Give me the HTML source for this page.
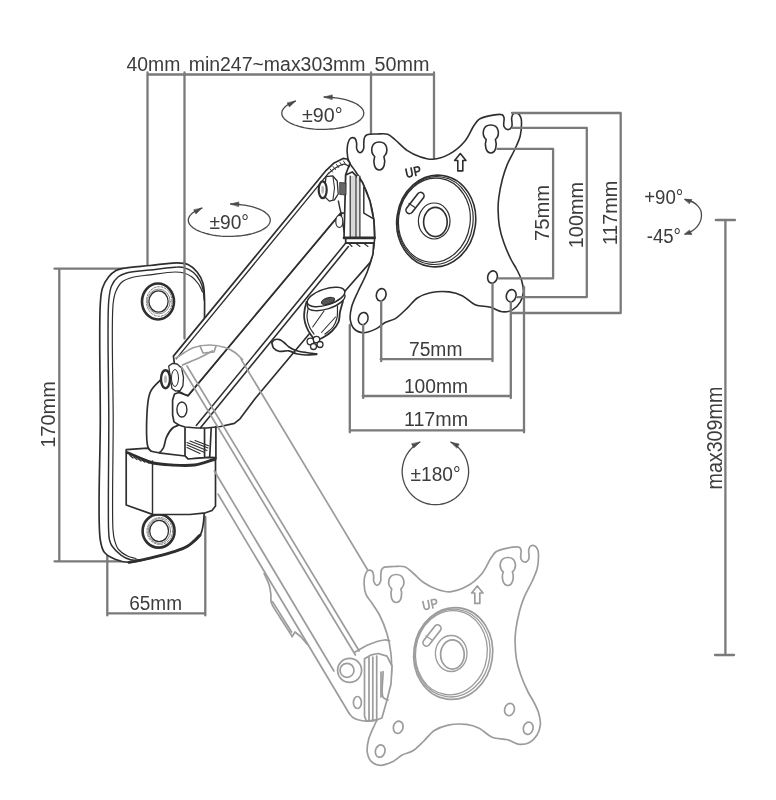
<!DOCTYPE html>
<html><head><meta charset="utf-8">
<style>
html,body{margin:0;padding:0;background:#fff;overflow:hidden;}
svg{display:block;}
#w{filter:grayscale(1);width:776px;height:800px;}
text{font-family:"Liberation Sans",sans-serif;}
</style></head>
<body><div id="w">
<svg width="776" height="800" viewBox="0 0 776 800" stroke-linecap="round" stroke-linejoin="round">
<rect width="776" height="800" fill="#fff"/>
<g>
<g stroke="#7a7a7a" stroke-width="2.3" fill="none">
<path d="M147.5 74.5H434M147.5 72.5V266M184.5 72.5V340M371 72.5V134.5M434 72.5V158.5" stroke="#7a7a7a" stroke-width="2.3" fill="none" />
<path d="M54.5 268.7H124M54.5 561.3H133M59.3 268.7V561.3" stroke="#7a7a7a" stroke-width="2.3" fill="none" />
<path d="M107.3 613.4H205.3M107.3 550V615.4M205.3 517V615.4" stroke="#7a7a7a" stroke-width="2.3" fill="none" />
<path d="M725.4 220V655M715.8 220H735M715 655H734" stroke="#7a7a7a" stroke-width="2.3" fill="none" />
</g>
<path d="M100.3 304.0C100.8 296.2 100.9 292.7 102.5 288.0C103.9 283.9 106.1 280.0 108.5 277.0C110.7 274.3 113.3 272.0 116.0 270.5C118.5 269.2 120.5 268.9 124.0 268.2C130.1 267.0 141.3 266.4 150.0 265.5C158.9 264.6 170.0 262.6 177.0 262.8C181.5 262.9 184.7 263.0 188.0 264.5C191.4 266.0 194.6 269.0 197.1 272.0C199.6 275.1 201.7 279.1 202.9 283.0C204.2 287.0 204.1 291.0 204.4 296.0C204.8 302.8 204.5 309.3 204.5 320.0C204.5 341.9 204.5 388.5 204.5 420.0C204.5 448.2 204.8 483.3 204.5 500.0C204.4 507.6 204.3 512.1 204.0 516.6C203.8 519.7 203.7 521.6 203.2 524.4C202.6 527.7 202.2 531.9 200.1 535.2C197.6 539.2 192.4 543.2 187.8 546.0C183.1 548.9 178.0 550.3 172.3 552.2C165.4 554.5 156.6 556.7 149.1 558.4C142.2 560.0 135.1 562.4 129.0 562.3C123.9 562.2 119.3 561.0 115.1 559.2C111.1 557.5 106.8 555.4 104.3 552.2C101.8 549.0 101.3 546.3 100.3 540.0C97.2 520.8 100.3 459.7 100.3 420.0C100.3 381.0 98.9 324.9 100.3 304.0Z" stroke="#2e2e2e" stroke-width="1.68" fill="#fff" />
<path d="M204.2 300.0C203.9 296.7 203.9 293.2 203.2 290.0C202.5 286.9 201.5 283.8 200.0 281.0C198.4 278.0 196.2 274.7 193.5 272.5C190.8 270.3 187.2 268.5 184.0 267.6C181.0 266.8 178.7 267.1 175.0 267.2C168.7 267.4 158.1 269.1 150.0 270.0C142.3 270.9 133.2 271.1 127.4 272.7C123.5 273.8 120.6 274.8 118.0 277.0C115.3 279.2 113.0 282.5 111.5 286.0C109.8 290.0 109.5 293.0 108.8 300.0C106.9 320.3 108.8 380.9 108.8 420.0C108.8 457.5 107.9 513.0 108.6 530.0C108.8 535.1 108.8 537.1 109.5 540.0C110.1 542.3 110.6 543.9 112.0 546.0C114.0 549.0 118.0 552.9 121.3 555.3C124.2 557.4 127.4 559.0 130.6 559.8C133.6 560.5 136.9 559.9 140.0 560.0" stroke="#2e2e2e" stroke-width="1.44" fill="none" />
<path d="M202.5 292.0C201.2 289.3 200.2 286.5 198.5 284.0C196.7 281.5 194.5 278.8 192.0 277.0C189.6 275.2 186.8 273.8 184.0 273.0C181.2 272.2 178.7 272.0 175.0 272.0C168.7 272.0 157.6 273.8 150.0 274.8C143.5 275.7 137.0 276.0 132.0 277.5C128.1 278.6 124.7 279.7 122.0 282.0C119.3 284.2 117.5 287.6 116.0 291.0C114.4 294.6 113.9 296.9 113.2 303.0C111.0 321.9 113.2 381.6 113.2 420.0C113.2 457.2 111.8 513.0 113.0 530.0C113.4 535.1 113.6 536.8 114.5 540.0C115.4 543.2 116.2 546.5 118.2 549.1C120.4 551.9 124.3 554.4 127.5 556.0C130.3 557.4 133.2 557.7 136.0 558.5" stroke="#2e2e2e" stroke-width="1.2" fill="none" />
<path d="M129.0 562.3C135.7 561.0 142.2 560.0 149.1 558.4C156.6 556.7 165.4 554.5 172.3 552.2C178.0 550.3 183.1 548.9 187.8 546.0C192.4 543.2 196.0 538.8 200.1 535.2" stroke="#2e2e2e" stroke-width="2.88" fill="none" />
<ellipse cx="158" cy="301.5" rx="16" ry="18" stroke="#2e2e2e" stroke-width="2.6" fill="#fff"/>
<ellipse cx="159.2" cy="301.5" rx="12.8" ry="14.8" stroke="#777" stroke-width="1" fill="none" stroke-dasharray="2 1.5"/>
<ellipse cx="158.8" cy="301.5" rx="11.4" ry="12.4" stroke="#888" stroke-width="1" fill="none"/>
<ellipse cx="158.5" cy="301.5" rx="9.6" ry="10.6" stroke="#2e2e2e" stroke-width="1.3" fill="#fff"/>
<ellipse cx="158.6" cy="531" rx="16" ry="16.6" stroke="#2e2e2e" stroke-width="2.6" fill="#fff"/>
<ellipse cx="159.79999999999998" cy="531" rx="12.8" ry="13.400000000000002" stroke="#777" stroke-width="1" fill="none" stroke-dasharray="2 1.5"/>
<ellipse cx="159.4" cy="531" rx="11.200000000000001" ry="12.4" stroke="#888" stroke-width="1" fill="none"/>
<ellipse cx="159.1" cy="531" rx="9.4" ry="10.6" stroke="#2e2e2e" stroke-width="1.3" fill="#fff"/>
<path d="M184.5 262V338.5" stroke="#7a7a7a" stroke-width="2.3" fill="none" />
<g transform="translate(17 432.5)"><path d="M347.1 151.5C347.0 148.1 347.5 143.9 348.5 141.5C349.1 139.9 349.9 138.5 351.0 138.0C352.1 137.5 354.1 137.8 355.0 138.5C356.0 139.3 356.3 141.4 356.6 143.0C356.9 144.8 356.2 147.3 356.8 149.0C357.4 150.5 358.9 152.8 360.0 152.8C361.1 152.8 362.9 150.5 363.5 149.0C364.2 147.3 363.6 145.0 363.8 143.0C364.0 141.1 363.8 138.9 364.5 137.5C365.0 136.3 365.7 135.4 367.0 134.8C369.1 133.8 373.6 134.1 377.0 134.0C380.5 133.9 384.6 133.2 387.7 134.3C390.7 135.3 392.6 137.7 395.4 140.0C398.9 142.9 402.8 147.5 407.0 150.3C411.0 153.0 415.5 155.2 419.9 156.7C424.1 158.1 428.3 159.5 432.8 159.3C438.0 159.0 444.1 156.9 449.3 154.1C454.9 151.1 460.7 146.1 464.8 141.2C468.7 136.6 471.1 129.8 473.8 125.8C475.7 123.1 476.8 120.9 479.0 119.3C481.4 117.6 484.6 116.8 488.0 116.1C492.1 115.2 499.8 113.7 502.2 114.8C503.3 115.3 503.6 116.3 504.0 117.5C504.6 119.6 503.0 124.4 504.0 126.5C504.8 128.1 506.7 129.6 508.0 129.6C509.3 129.6 511.1 128.1 511.8 126.5C512.8 124.3 511.1 119.4 511.8 117.0C512.2 115.4 512.9 113.9 514.0 113.3C515.0 112.7 516.9 112.9 518.0 113.5C519.3 114.2 520.4 116.3 521.0 118.0C521.6 119.8 521.5 121.7 521.5 124.0C521.5 127.3 521.2 132.0 520.2 136.0C519.1 140.3 517.0 144.5 515.0 149.0C512.8 154.0 509.4 159.3 507.3 164.4C505.3 169.2 503.9 173.6 502.5 178.8C501.0 184.6 499.5 191.9 498.8 197.5C498.2 202.1 498.0 205.6 498.1 210.0C498.2 215.1 498.5 220.9 499.4 226.3C500.3 231.8 501.9 237.1 503.8 242.5C505.8 248.3 508.9 255.2 511.3 260.0C513.1 263.6 514.9 265.8 516.5 269.0C518.3 272.4 520.3 276.2 521.5 280.0C522.6 283.8 523.7 288.1 523.4 291.9C523.1 295.5 522.0 299.2 520.2 302.2C518.4 305.2 515.5 308.3 512.5 309.9C509.5 311.5 505.7 312.1 502.2 311.8C498.4 311.4 494.8 308.5 490.6 307.3C485.9 306.0 479.8 306.6 475.1 304.7C470.4 302.8 466.7 297.9 462.2 295.7C458.1 293.7 454.1 292.5 449.3 291.9C443.6 291.2 435.9 291.6 430.2 292.8C425.4 293.9 421.1 295.5 417.3 298.0C413.4 300.6 410.6 304.9 407.0 308.3C403.3 311.8 399.4 316.2 395.4 318.6C392.0 320.6 388.3 320.8 385.1 322.5C381.9 324.2 379.4 327.2 376.0 328.9C372.2 330.7 367.1 333.0 363.2 332.8C359.9 332.6 356.3 331.0 354.2 328.9C352.0 326.7 350.8 323.2 350.3 319.9C349.7 316.1 350.5 311.4 351.6 307.0C352.9 302.0 355.6 296.9 358.0 291.5C360.7 285.4 364.7 278.4 367.1 272.2C369.3 266.6 371.0 261.4 372.2 256.0C373.4 250.7 374.2 245.6 374.5 240.0C374.8 233.7 374.6 226.5 373.8 220.0C373.0 213.6 371.8 207.5 370.0 201.3C368.1 195.0 365.4 188.1 362.5 182.5C360.0 177.7 356.7 173.3 354.2 169.6C352.3 166.7 350.2 164.8 349.0 161.9C347.7 158.8 347.2 154.9 347.1 151.5Z" stroke="#9c9c9c" stroke-width="1.7" fill="#fff"/>
<path d="M374.7 156.5C369.8 152 370.8 142 379.3 142C387.8 142 388.8 152 383.90000000000003 156.5C385.8 162 384.3 170 379.3 170C374.3 170 372.8 162 374.7 156.5Z" stroke="#9c9c9c" stroke-width="1.7" fill="none"/>
<path d="M486.2 139.5C481.3 135 482.3 125 490.8 125C499.3 125 500.3 135 495.40000000000003 139.5C497.3 145 495.8 153 490.8 153C485.8 153 484.3 145 486.2 139.5Z" stroke="#9c9c9c" stroke-width="1.7" fill="none"/>
<ellipse cx="381.2" cy="294.8" rx="4.8" ry="6.2" transform="rotate(15 381.2 294.8)" stroke="#9c9c9c" stroke-width="1.7" fill="none"/>
<ellipse cx="363.2" cy="318.6" rx="4.8" ry="6.2" transform="rotate(15 363.2 318.6)" stroke="#9c9c9c" stroke-width="1.7" fill="none"/>
<ellipse cx="492.5" cy="277" rx="4.8" ry="6.2" transform="rotate(15 492.5 277)" stroke="#9c9c9c" stroke-width="1.7" fill="none"/>
<ellipse cx="511.2" cy="295.7" rx="4.8" ry="6.2" transform="rotate(15 511.2 295.7)" stroke="#9c9c9c" stroke-width="1.7" fill="none"/>
<ellipse cx="436.2" cy="221" rx="39.4" ry="46" transform="rotate(8 436.2 221)" stroke="#9c9c9c" stroke-width="1.7" fill="none"/>
<ellipse cx="435.4" cy="220.6" rx="37.6" ry="44" transform="rotate(8 435.4 220.6)" stroke="#9c9c9c" stroke-width="1.3" fill="none"/>
<ellipse cx="434.4" cy="220.2" rx="35.8" ry="42.2" transform="rotate(8 434.4 220.2)" stroke="#9c9c9c" stroke-width="1.3" fill="none"/>
<ellipse cx="434.2" cy="221" rx="15.8" ry="18" stroke="#9c9c9c" stroke-width="1.3" fill="none"/>
<ellipse cx="435.4" cy="222" rx="11.8" ry="14.6" stroke="#9c9c9c" stroke-width="1.7" fill="none"/>
<rect x="402.5" y="199.5" width="25" height="7" rx="3.5" transform="rotate(-52 415 203)" stroke="#9c9c9c" stroke-width="1.7" fill="none"/>
<path d="M409 203.5l6 4" stroke="#9c9c9c" stroke-width="1.3"/>
<text x="405" y="176.7" font-size="14" font-weight="bold" fill="#9c9c9c" textLength="16" lengthAdjust="spacingAndGlyphs" transform="rotate(-12 413 171)">UP</text>
<path d="M460.3 153.5L466 160.5H462.8V170.9H457.8V160.5H454.6Z" stroke="#9c9c9c" stroke-width="1.7" fill="none" stroke-linejoin="round"/></g>
<path d="M264.1 573.5C265.8 577.3 268.0 581.2 269.1 584.8C270.1 587.9 270.4 590.8 270.8 593.8C271.2 596.8 270.4 599.6 271.4 602.8C272.7 607.0 276.5 611.7 279.3 616.3C282.4 621.4 287.1 628.3 289.4 632.0C290.6 633.9 291.3 635.0 292.2 636.5" stroke="#9c9c9c" stroke-width="1.7" fill="none" />
<path d="M292.2 636.5 L295.0 632.0 L300.6 636.5 L307.4 644.4" stroke="#9c9c9c" stroke-width="1.7" fill="none" />
<path d="M272.5 601.6 L291.6 632.0" stroke="#9c9c9c" stroke-width="1.7" fill="none" />
<path d="M364.5 658.7L371.5 654.8L378 653.5L387 656.1L392 666L391 684L387 700L381.9 718L375.7 720.2L366.4 721.2L364.5 716Z" stroke="#9c9c9c" stroke-width="1.7" fill="#fff"/>
<path d="M369 657.4V721M372.8 657V721M376.7 656V720.5M381 672V697" stroke="#9c9c9c" stroke-width="1.7" fill="none" />
<path d="M354.8 652.2C359.5 649.6 364.1 646.5 369.0 644.5C373.9 642.5 380.6 640.3 384.4 640.0C386.6 639.8 387.9 640.4 389.6 640.6" stroke="#9c9c9c" stroke-width="1.7" fill="none" />
<path d="M383.1 671.5C383.1 680.1 380.7 693.2 383.1 697.3C384.2 699.2 386.4 699.1 388.0 700.0" stroke="#9c9c9c" stroke-width="1.7" fill="none" />
<circle cx="349.6" cy="670.3" r="12" stroke="#9c9c9c" stroke-width="1.7" fill="#fff"/>
<circle cx="347" cy="670.3" r="7" stroke="#9c9c9c" stroke-width="1.7" fill="none"/>
<ellipse cx="357.4" cy="702.5" rx="4" ry="6" stroke="#9c9c9c" stroke-width="1.7" fill="none"/>
<path d="M347.1 151.5C347.0 148.1 347.5 143.9 348.5 141.5C349.1 139.9 349.9 138.5 351.0 138.0C352.1 137.5 354.1 137.8 355.0 138.5C356.0 139.3 356.3 141.4 356.6 143.0C356.9 144.8 356.2 147.3 356.8 149.0C357.4 150.5 358.9 152.8 360.0 152.8C361.1 152.8 362.9 150.5 363.5 149.0C364.2 147.3 363.6 145.0 363.8 143.0C364.0 141.1 363.8 138.9 364.5 137.5C365.0 136.3 365.7 135.4 367.0 134.8C369.1 133.8 373.6 134.1 377.0 134.0C380.5 133.9 384.6 133.2 387.7 134.3C390.7 135.3 392.6 137.7 395.4 140.0C398.9 142.9 402.8 147.5 407.0 150.3C411.0 153.0 415.5 155.2 419.9 156.7C424.1 158.1 428.3 159.5 432.8 159.3C438.0 159.0 444.1 156.9 449.3 154.1C454.9 151.1 460.7 146.1 464.8 141.2C468.7 136.6 471.1 129.8 473.8 125.8C475.7 123.1 476.8 120.9 479.0 119.3C481.4 117.6 484.6 116.8 488.0 116.1C492.1 115.2 499.8 113.7 502.2 114.8C503.3 115.3 503.6 116.3 504.0 117.5C504.6 119.6 503.0 124.4 504.0 126.5C504.8 128.1 506.7 129.6 508.0 129.6C509.3 129.6 511.1 128.1 511.8 126.5C512.8 124.3 511.1 119.4 511.8 117.0C512.2 115.4 512.9 113.9 514.0 113.3C515.0 112.7 516.9 112.9 518.0 113.5C519.3 114.2 520.4 116.3 521.0 118.0C521.6 119.8 521.5 121.7 521.5 124.0C521.5 127.3 521.2 132.0 520.2 136.0C519.1 140.3 517.0 144.5 515.0 149.0C512.8 154.0 509.4 159.3 507.3 164.4C505.3 169.2 503.9 173.6 502.5 178.8C501.0 184.6 499.5 191.9 498.8 197.5C498.2 202.1 498.0 205.6 498.1 210.0C498.2 215.1 498.5 220.9 499.4 226.3C500.3 231.8 501.9 237.1 503.8 242.5C505.8 248.3 508.9 255.2 511.3 260.0C513.1 263.6 514.9 265.8 516.5 269.0C518.3 272.4 520.3 276.2 521.5 280.0C522.6 283.8 523.7 288.1 523.4 291.9C523.1 295.5 522.0 299.2 520.2 302.2C518.4 305.2 515.5 308.3 512.5 309.9C509.5 311.5 505.7 312.1 502.2 311.8C498.4 311.4 494.8 308.5 490.6 307.3C485.9 306.0 479.8 306.6 475.1 304.7C470.4 302.8 466.7 297.9 462.2 295.7C458.1 293.7 454.1 292.5 449.3 291.9C443.6 291.2 435.9 291.6 430.2 292.8C425.4 293.9 421.1 295.5 417.3 298.0C413.4 300.6 410.6 304.9 407.0 308.3C403.3 311.8 399.4 316.2 395.4 318.6C392.0 320.6 388.3 320.8 385.1 322.5C381.9 324.2 379.4 327.2 376.0 328.9C372.2 330.7 367.1 333.0 363.2 332.8C359.9 332.6 356.3 331.0 354.2 328.9C352.0 326.7 350.8 323.2 350.3 319.9C349.7 316.1 350.5 311.4 351.6 307.0C352.9 302.0 355.6 296.9 358.0 291.5C360.7 285.4 364.7 278.4 367.1 272.2C369.3 266.6 371.0 261.4 372.2 256.0C373.4 250.7 374.2 245.6 374.5 240.0C374.8 233.7 374.6 226.5 373.8 220.0C373.0 213.6 371.8 207.5 370.0 201.3C368.1 195.0 365.4 188.1 362.5 182.5C360.0 177.7 356.7 173.3 354.2 169.6C352.3 166.7 350.2 164.8 349.0 161.9C347.7 158.8 347.2 154.9 347.1 151.5Z" stroke="#2e2e2e" stroke-width="1.6" fill="#fff"/>
<path d="M374.7 156.5C369.8 152 370.8 142 379.3 142C387.8 142 388.8 152 383.90000000000003 156.5C385.8 162 384.3 170 379.3 170C374.3 170 372.8 162 374.7 156.5Z" stroke="#2e2e2e" stroke-width="1.6" fill="none"/>
<path d="M486.2 139.5C481.3 135 482.3 125 490.8 125C499.3 125 500.3 135 495.40000000000003 139.5C497.3 145 495.8 153 490.8 153C485.8 153 484.3 145 486.2 139.5Z" stroke="#2e2e2e" stroke-width="1.6" fill="none"/>
<ellipse cx="381.2" cy="294.8" rx="4.8" ry="6.2" transform="rotate(15 381.2 294.8)" stroke="#2e2e2e" stroke-width="1.6" fill="none"/>
<ellipse cx="363.2" cy="318.6" rx="4.8" ry="6.2" transform="rotate(15 363.2 318.6)" stroke="#2e2e2e" stroke-width="1.6" fill="none"/>
<ellipse cx="492.5" cy="277" rx="4.8" ry="6.2" transform="rotate(15 492.5 277)" stroke="#2e2e2e" stroke-width="1.6" fill="none"/>
<ellipse cx="511.2" cy="295.7" rx="4.8" ry="6.2" transform="rotate(15 511.2 295.7)" stroke="#2e2e2e" stroke-width="1.6" fill="none"/>
<ellipse cx="436.2" cy="221" rx="39.4" ry="46" transform="rotate(8 436.2 221)" stroke="#2e2e2e" stroke-width="1.6" fill="none"/>
<ellipse cx="435.4" cy="220.6" rx="37.6" ry="44" transform="rotate(8 435.4 220.6)" stroke="#2e2e2e" stroke-width="1.2" fill="none"/>
<ellipse cx="434.4" cy="220.2" rx="35.8" ry="42.2" transform="rotate(8 434.4 220.2)" stroke="#2e2e2e" stroke-width="1.2" fill="none"/>
<ellipse cx="434.2" cy="221" rx="15.8" ry="18" stroke="#2e2e2e" stroke-width="1.2" fill="none"/>
<ellipse cx="435.4" cy="222" rx="11.8" ry="14.6" stroke="#2e2e2e" stroke-width="1.6" fill="none"/>
<rect x="402.5" y="199.5" width="25" height="7" rx="3.5" transform="rotate(-52 415 203)" stroke="#2e2e2e" stroke-width="1.6" fill="none"/>
<path d="M409 203.5l6 4" stroke="#2e2e2e" stroke-width="1.2"/>
<text x="405" y="176.7" font-size="14" font-weight="bold" fill="#2e2e2e" textLength="16" lengthAdjust="spacingAndGlyphs" transform="rotate(-12 413 171)">UP</text>
<path d="M460.3 153.5L466 160.5H462.8V170.9H457.8V160.5H454.6Z" stroke="#2e2e2e" stroke-width="1.6" fill="none" stroke-linejoin="round"/>
<path d="M188.0 395.6 L340.6 213.1 L345.7 238.0 L345.7 243.1 L373.7 243.1 L372.9 254.5 L370.2 262.4 L344.9 291.2 L255.0 398.8 L240.0 418.8 L234.4 423.4 L220.5 426.5 L206.6 428.0 L197.3 428.0 L185.0 427.0 L178.8 425.0 L174.0 421.9 L172.6 415.0 L172.6 400.0 L174.5 394.0 L178.8 392.5Z" stroke="#2e2e2e" stroke-width="1.68" fill="#fff" />
<path d="M196.3 425.5 L345.7 243.1" stroke="#2e2e2e" stroke-width="1.56" fill="none" />
<path d="M200.5 427.8 L348.4 246.6" stroke="#2e2e2e" stroke-width="1.56" fill="none" />
<ellipse cx="181.9" cy="409.5" rx="5" ry="7.5" stroke="#2e2e2e" stroke-width="1.4" fill="#fff"/>
<path d="M173.4 356.1 L326.2 170.3 L334.1 162.9 L343.1 158.4 L347.0 159.0 L350.0 163.0 L345.7 174.5 L345.7 213.0 L340.6 213.1 L188.0 395.6 L183.8 394.0 L178.0 391.0Z" stroke="#2e2e2e" stroke-width="1.68" fill="#fff" />
<path d="M176.2 358.8 L328.6 173.2" stroke="#2e2e2e" stroke-width="1.32" fill="none" />
<path d="M328.6 173.2C330.9 171.5 332.9 169.5 335.4 168.0C338.1 166.4 341.8 164.1 344.4 164.2C346.4 164.3 347.9 165.9 349.6 166.8" stroke="#2e2e2e" stroke-width="1.2" fill="none" />
<path d="M330 169l2.5 3M333 166.5l2.5 3M336.5 164.5l2.2 3M340 162.5l2 3M343.5 161l1.8 3" stroke="#2e2e2e" stroke-width="0.96" fill="none" />
<path d="M345.7 175.0 L352.2 171.9 L362.5 182.5 L370.0 201.3 L373.8 220.0 L374.6 237.9 L344.0 237.9 L345.7 175.0Z" stroke="#2e2e2e" stroke-width="1.68" fill="#fff" />
<path d="M350.6 176H355.6V237.5H350.6Z" fill="#d8d8d8"/>
<path d="M357 176H359.5V237.5H357Z" fill="#e2e2e2"/>
<path d="M350.2 176V238M356 175V238M359.9 176V238" stroke="#2e2e2e" stroke-width="1.2" fill="none" />
<path d="M363.8 187.4V213.1L372.8 218.3" stroke="#2e2e2e" stroke-width="1.44" fill="none" />
<path d="M344 237.9H374.6" stroke="#2e2e2e" stroke-width="2.64" fill="none" />
<path d="M345.7 243.1H373.7" stroke="#2e2e2e" stroke-width="1.68" fill="none" />
<path d="M349 243.5L352 246.5M356 243.5L360 246.5M364 243.5L368 246.5" stroke="#2e2e2e" stroke-width="1.08" fill="none" />
<path d="M340 182.5L346 183V195L340 194.5Z" fill="#666" stroke="#2e2e2e" stroke-width="0.8"/>
<path d="M326 176.6L332.6 175.8L337.2 181L338.2 194L334.5 199.8L329.3 201.1L324 196Z" stroke="#2e2e2e" stroke-width="1.3" fill="#fff"/>
<path d="M333 177L334.5 188L333 199.5" stroke="#2e2e2e" stroke-width="1.08" fill="none" />
<ellipse cx="322.7" cy="189.8" rx="4" ry="8.4" stroke="#2e2e2e" stroke-width="2.2" fill="#fff"/>
<ellipse cx="322.7" cy="189.8" rx="1.5" ry="4" fill="#bbb"/>
<path d="M338.4 201.1C339.0 204.1 339.7 207.6 340.3 210.1C340.7 212.0 341.2 213.4 341.6 215.0" stroke="#2e2e2e" stroke-width="1.44" fill="none" />
<ellipse cx="339.3" cy="221.5" rx="3.5" ry="6" stroke="#2e2e2e" stroke-width="1.2" fill="#fff"/>
<path d="M271.8 342.5C272.7 341.6 273.3 340.3 274.5 339.8C275.8 339.2 277.9 339.2 279.5 339.6C281.1 340.0 282.5 341.4 284.0 342.5C285.7 343.8 287.1 345.7 289.0 347.0C291.1 348.4 293.4 349.6 296.0 350.5C299.0 351.5 302.6 352.0 306.0 352.5C309.5 353.1 313.1 353.4 316.6 353.8" stroke="#2e2e2e" stroke-width="1.68" fill="none" />
<path d="M271.8 342.5C272.4 344.3 272.4 346.6 273.5 348.0C274.7 349.5 276.8 350.7 279.0 351.2C281.7 351.9 285.8 350.3 288.8 350.8C291.6 351.3 293.8 353.1 296.5 353.8C299.5 354.6 302.7 354.9 306.0 355.0C309.4 355.1 313.1 354.5 316.6 354.3" stroke="#2e2e2e" stroke-width="1.68" fill="none" />
<path d="M306.5 302.0C305.9 304.7 305.0 307.3 304.6 310.0C304.2 312.6 303.9 315.3 304.2 318.0C304.5 320.9 305.4 324.2 306.5 327.0C307.6 329.8 309.3 332.7 311.0 335.0C312.5 337.0 314.0 339.6 316.0 340.0C318.0 340.5 320.6 338.8 323.0 337.5C325.9 336.0 329.4 333.6 332.0 331.0C334.6 328.4 337.2 325.3 338.5 322.0C339.8 318.9 339.3 315.4 340.0 312.0C340.8 308.4 342.0 304.7 343.0 301.0" stroke="#2e2e2e" stroke-width="1.8" fill="#fff" />
<path d="M308.6 306.0C308.1 309.7 306.8 313.4 307.0 317.0C307.2 320.4 308.2 324.1 309.5 327.0C310.6 329.6 312.5 331.7 314.0 334.0" stroke="#2e2e2e" stroke-width="1.2" fill="none" />
<path d="M337.5 306.0C337.3 310.0 337.9 314.4 337.0 318.0C336.2 321.3 334.9 324.4 333.0 327.0C331.0 329.7 327.7 331.7 325.0 334.0" stroke="#2e2e2e" stroke-width="1.2" fill="none" />
<path d="M324.0 311.0 L312.7 327.0" stroke="#2e2e2e" stroke-width="1.08" fill="none" />
<path d="M335.5 317.0 L321.5 332.5" stroke="#2e2e2e" stroke-width="1.08" fill="none" />
<ellipse cx="326.2" cy="301" rx="19.6" ry="8" transform="rotate(-18 326.2 301)" stroke="#2e2e2e" stroke-width="1.4" fill="#fff"/>
<ellipse cx="326" cy="297" rx="19.6" ry="8" transform="rotate(-18 326 297)" stroke="#2e2e2e" stroke-width="1.5" fill="#fff"/>
<ellipse cx="328" cy="301" rx="6.8" ry="3" transform="rotate(-18 328 301)" stroke="#2e2e2e" stroke-width="1.2" fill="#555"/>
<circle cx="310.5" cy="341.5" r="3.4" stroke="#2e2e2e" stroke-width="1.3" fill="#fff"/>
<circle cx="316.5" cy="339.5" r="3.2" stroke="#2e2e2e" stroke-width="1.3" fill="#fff"/>
<circle cx="320" cy="344.5" r="3" stroke="#2e2e2e" stroke-width="1.3" fill="#fff"/>
<circle cx="313.5" cy="346.5" r="3" stroke="#2e2e2e" stroke-width="1.3" fill="#fff"/>
<path d="M161.8 378.6C158.2 382.7 153.2 386.5 150.9 390.9C148.8 394.8 148.5 397.9 147.8 403.3C146.6 413.3 145.7 439.6 147.8 446.6C148.6 449.1 149.3 450.2 150.9 451.2C152.8 452.4 156.6 453.4 158.7 452.8C160.6 452.2 162.1 450.2 163.3 448.1C164.9 445.4 164.8 440.7 166.4 437.3C167.9 434.0 170.2 430.1 172.6 428.0C174.5 426.4 176.7 426.0 178.8 425.0" stroke="#2e2e2e" stroke-width="1.68" fill="none" />
<path d="M168.7 366L172.6 363.4L177.1 364L181.6 367.9L183.5 377.6L182.9 385.9L180.3 390.4L175.8 391.1L171.9 388.5Z" stroke="#2e2e2e" stroke-width="1.3" fill="#fff"/>
<ellipse cx="175" cy="378" rx="3.5" ry="8.5" stroke="#2e2e2e" stroke-width="1" fill="none"/>
<ellipse cx="165.5" cy="379.2" rx="4.5" ry="9" stroke="#2e2e2e" stroke-width="2.4" fill="#fff"/>
<ellipse cx="165.5" cy="379.2" rx="1.6" ry="4" fill="#bbb"/>
<path d="M185 428V456L188 459L209.7 457.4L211.2 428" stroke="#2e2e2e" stroke-width="1.68" fill="none" />
<path d="M215.9 426.5V459" stroke="#2e2e2e" stroke-width="1.68" fill="none" />
<path d="M187 442.5L207 450.5M187 445L204 452.3M187 447.5L200 453.5M190 441L208 448M195 440.5L208.5 445.8" stroke="#2e2e2e" stroke-width="1.08" fill="none" />
<path d="M126.2 449.7 L147.8 448.1 L150.9 451.2 L158.7 452.8 L185.0 456.0 L188.0 459.0 L209.7 457.4 L215.5 457.6 L215.5 506.0 L212.0 510.5 L205.5 512.8 L190.0 514.5 L152.5 514.4 L126.2 505.0Z" stroke="#2e2e2e" stroke-width="1.68" fill="#fff" />
<path d="M127.0 452.5C131.3 454.3 135.6 456.3 140.0 458.0C144.4 459.8 148.4 461.8 153.3 463.0C158.9 464.3 165.2 464.6 171.7 465.0C178.9 465.4 187.2 466.0 194.4 465.0C201.3 464.1 207.6 461.3 214.2 459.5" stroke="#2e2e2e" stroke-width="2.88" fill="none" />
<path d="M130 455.5l3 2.5M134 457l3 2.5M138 458.5l3 2.5M142 460l3 2.2M146 461.3l3 2M150 462.5l3 1.8" stroke="#2e2e2e" stroke-width="1.2" fill="none" />
<path d="M152.5 461V514.4" stroke="#2e2e2e" stroke-width="1.44" fill="none" />
<path d="M241.3 359.6 L367.7 570.0" stroke="#9c9c9c" stroke-width="1.7" fill="none" />
<path d="M187.0 366.0 L359.2 651.0" stroke="#9c9c9c" stroke-width="1.7" fill="none" />
<path d="M181.6 367.0 L355.4 655.0" stroke="#9c9c9c" stroke-width="1.7" fill="none" />
<path d="M214.4 471.0 L333.9 671.0" stroke="#9c9c9c" stroke-width="1.7" fill="none" />
<path d="M218.1 494.2 L348.9 713.0" stroke="#9c9c9c" stroke-width="1.7" fill="none" />
<path d="M348.9 713.0C350.3 714.5 351.4 716.4 353.0 717.5C354.5 718.6 356.1 719.2 358.0 719.8C360.4 720.5 363.5 721.1 366.4 721.2C369.4 721.3 372.6 720.5 375.7 720.2" stroke="#9c9c9c" stroke-width="1.7" fill="none" />
<path d="M176.0 358.0C181.9 354.5 187.8 349.6 193.8 347.5C199.1 345.6 204.7 345.0 210.0 345.0C215.1 345.0 220.6 346.1 225.0 347.5C228.8 348.7 232.0 350.4 235.0 352.5C237.8 354.5 240.0 357.2 242.5 359.6" stroke="#9c9c9c" stroke-width="1.7" fill="none" />
<path d="M182.5 365.0C188.3 362.5 194.7 360.0 200.0 357.5C204.6 355.3 208.3 353.2 212.5 351.0" stroke="#9c9c9c" stroke-width="1.7" fill="none" />
<path d="M200.0 346.0 L203.0 353.0 L214.0 352.0 L216.0 346.0" stroke="#9c9c9c" stroke-width="1.7" fill="none" />
<g stroke="#7a7a7a" stroke-width="2.3" fill="none">
<path d="M380.7 359.2H492.1M381.2 301V361.2M492.5 283.2V361.2"/>
<path d="M362.7 396H510.6M363.2 324.8V398M510.8 302V398"/>
<path d="M349.8 430.3H524.3M349.8 325V432.3M524 287V432.3"/>
<path d="M497.5 148.9H553.1V278.4H498.5"/>
<path d="M512.5 127.9H586.8V297.1H517"/>
<path d="M512 113H620.7V313H512"/>
</g>
<path d="M295.4 101.2 L293.3 101.9 L291.4 102.8 L289.7 103.6 L288.1 104.6 L286.7 105.5 L285.4 106.5 L284.4 107.6 L283.5 108.6 L282.8 109.7 L282.3 110.8 L281.9 111.9 L281.8 113.0 L281.9 114.1 L282.1 115.3 L282.6 116.4 L283.2 117.4 L284.1 118.5 L285.1 119.6 L286.3 120.6 L287.7 121.5 L289.2 122.5 L290.9 123.4 L292.7 124.2 L294.7 125.0 L296.9 125.7 L299.1 126.4 L301.5 127.0 L303.9 127.6 L306.5 128.1 L309.1 128.5 L311.8 128.8 L314.6 129.1 L317.3 129.3 L320.2 129.4 L323.0 129.4 L325.8 129.4 L328.6 129.2 L331.4 129.0 L334.1 128.8 L336.8 128.4 L339.4 128.0 L342.0 127.5 L344.4 127.0 L346.8 126.3 L349.0 125.7 L351.1 124.9 L353.1 124.1 L354.9 123.3 L356.6 122.4 L358.1 121.4 L359.5 120.4 L360.7 119.4 L361.6 118.4 L362.5 117.3 L363.1 116.2 L363.5 115.1 L363.7 114.0 L363.8 112.9 L363.6 111.8 L363.3 110.7 L362.8 109.6 L362.0 108.5 L361.1 107.4 L360.0 106.4 L358.7 105.4 L357.3 104.4 L355.7 103.5 L353.9 102.7 L352.0 101.8 L350.0 101.1 L347.8 100.4 L345.5 99.7 L343.1 99.1 L340.6 98.6 L338.0 98.2 L335.3 97.8 L332.6 97.5 L329.8 97.2 L327.1 97.1 L324.2 97.0" stroke="#4a4a4a" stroke-width="1.3" fill="none"/>
<path d="M295.4 101.2L289.4 106.9L287.3 103.1Z" fill="#4a4a4a" stroke="#4a4a4a" stroke-width="0.6"/>
<path d="M324.2 97.0L332.3 94.9L332.2 99.3Z" fill="#4a4a4a" stroke="#4a4a4a" stroke-width="0.6"/>
<path d="M201.9 208.2 L199.8 208.9 L197.9 209.8 L196.2 210.6 L194.6 211.6 L193.2 212.5 L191.9 213.5 L190.9 214.6 L190.0 215.6 L189.3 216.7 L188.8 217.8 L188.4 218.9 L188.3 220.0 L188.4 221.1 L188.6 222.3 L189.1 223.4 L189.7 224.4 L190.6 225.5 L191.6 226.6 L192.8 227.6 L194.2 228.5 L195.7 229.5 L197.4 230.4 L199.2 231.2 L201.2 232.0 L203.4 232.7 L205.6 233.4 L208.0 234.0 L210.4 234.6 L213.0 235.1 L215.6 235.5 L218.3 235.8 L221.1 236.1 L223.8 236.3 L226.7 236.4 L229.5 236.4 L232.3 236.4 L235.1 236.2 L237.9 236.0 L240.6 235.8 L243.3 235.4 L245.9 235.0 L248.5 234.5 L250.9 234.0 L253.3 233.3 L255.5 232.7 L257.6 231.9 L259.6 231.1 L261.4 230.3 L263.1 229.4 L264.6 228.4 L266.0 227.4 L267.2 226.4 L268.1 225.4 L269.0 224.3 L269.6 223.2 L270.0 222.1 L270.2 221.0 L270.3 219.9 L270.1 218.8 L269.8 217.7 L269.3 216.6 L268.5 215.5 L267.6 214.4 L266.5 213.4 L265.2 212.4 L263.8 211.4 L262.2 210.5 L260.4 209.7 L258.5 208.8 L256.5 208.1 L254.3 207.4 L252.0 206.7 L249.6 206.1 L247.1 205.6 L244.5 205.2 L241.8 204.8 L239.1 204.5 L236.3 204.2 L233.6 204.1 L230.7 204.0" stroke="#4a4a4a" stroke-width="1.3" fill="none"/>
<path d="M201.9 208.2L195.9 213.9L193.8 210.1Z" fill="#4a4a4a" stroke="#4a4a4a" stroke-width="0.6"/>
<path d="M230.7 204.0L238.8 201.9L238.7 206.3Z" fill="#4a4a4a" stroke="#4a4a4a" stroke-width="0.6"/>
<path d="M419.8 442.2 L417.9 443.3 L416.1 444.5 L414.3 445.8 L412.7 447.3 L411.1 448.9 L409.7 450.5 L408.3 452.3 L407.1 454.1 L406.0 456.0 L405.1 458.0 L404.2 460.0 L403.6 462.1 L403.0 464.3 L402.6 466.4 L402.3 468.6 L402.2 470.8 L402.2 473.0 L402.4 475.2 L402.7 477.4 L403.2 479.5 L403.8 481.6 L404.5 483.7 L405.4 485.7 L406.4 487.7 L407.6 489.6 L408.8 491.4 L410.2 493.1 L411.7 494.7 L413.3 496.2 L415.0 497.7 L416.7 499.0 L418.6 500.1 L420.5 501.2 L422.5 502.1 L424.6 502.9 L426.7 503.5 L428.8 504.0 L431.0 504.4 L433.2 504.6 L435.4 504.7 L437.6 504.6 L439.8 504.4 L442.0 504.0 L444.1 503.5 L446.2 502.9 L448.3 502.1 L450.3 501.2 L452.2 500.1 L454.1 499.0 L455.8 497.7 L457.5 496.2 L459.1 494.7 L460.6 493.1 L462.0 491.4 L463.2 489.6 L464.4 487.7 L465.4 485.7 L466.3 483.7 L467.0 481.6 L467.6 479.5 L468.1 477.4 L468.4 475.2 L468.6 473.0 L468.6 470.8 L468.5 468.6 L468.2 466.4 L467.8 464.3 L467.2 462.1 L466.6 460.0 L465.7 458.0 L464.8 456.0 L463.7 454.1 L462.5 452.3 L461.1 450.5 L459.7 448.9 L458.1 447.3 L456.5 445.8 L454.7 444.5 L452.9 443.3 L451.0 442.2" stroke="#4a4a4a" stroke-width="1.3" fill="none"/>
<path d="M419.8 442.2L413.8 447.9L411.7 444.0Z" fill="#4a4a4a" stroke="#4a4a4a" stroke-width="0.6"/>
<path d="M451.0 442.2L459.1 444.0L457.0 447.9Z" fill="#4a4a4a" stroke="#4a4a4a" stroke-width="0.6"/>
<path d="M685.5 199.5C697 202 702 209 701.5 216C701 224 695 231 685.5 234" stroke="#4a4a4a" stroke-width="1.3" fill="none"/>
<path d="M684.5 199.2L692 199.6L689.5 203.6Z" fill="#4a4a4a" stroke="#4a4a4a" stroke-width="0.6"/>
<path d="M684.5 234.3L692 234.5L689.6 230.3Z" fill="#4a4a4a" stroke="#4a4a4a" stroke-width="0.6"/>
<g font-size="20" fill="#3c3c3c">
<text x="126.5" y="71.4" textLength="53.8" lengthAdjust="spacingAndGlyphs">40mm</text>
<text x="188.7" y="71.4" textLength="176.8" lengthAdjust="spacingAndGlyphs">min247~max303mm</text>
<text x="374.5" y="71.4" textLength="54.9" lengthAdjust="spacingAndGlyphs">50mm</text>
<text x="409" y="355.8" textLength="53.4" lengthAdjust="spacingAndGlyphs">75mm</text>
<text x="403.9" y="392.9" textLength="64.2" lengthAdjust="spacingAndGlyphs">100mm</text>
<text x="403.9" y="426.4" textLength="64.2" lengthAdjust="spacingAndGlyphs">117mm</text>
<text x="129.2" y="609.7" textLength="52.8" lengthAdjust="spacingAndGlyphs">65mm</text>
<text transform="translate(55 447.8) rotate(-90)" textLength="66.8" lengthAdjust="spacingAndGlyphs">170mm</text>
<text transform="translate(548.8 241) rotate(-90)" textLength="56.1" lengthAdjust="spacingAndGlyphs">75mm</text>
<g font-size="21">
<text transform="translate(582.8 248.2) rotate(-90)" textLength="66.2" lengthAdjust="spacingAndGlyphs">100mm</text>
<text transform="translate(617.4 245.3) rotate(-90)" textLength="64.7" lengthAdjust="spacingAndGlyphs">117mm</text>
</g>
<g font-size="22.5">
<text transform="translate(722 489.5) rotate(-90)" textLength="102.8" lengthAdjust="spacingAndGlyphs">max309mm</text>
</g>
<text x="644.2" y="204" textLength="39.1" lengthAdjust="spacingAndGlyphs">+90°</text>
<text x="646.7" y="243.2" textLength="34.3" lengthAdjust="spacingAndGlyphs">-45°</text>
<text x="302" y="122.2" textLength="40.6" lengthAdjust="spacingAndGlyphs">±90°</text>
<text x="209.5" y="229.2" textLength="39.5" lengthAdjust="spacingAndGlyphs">±90°</text>
<text x="410.6" y="480.9" textLength="50" lengthAdjust="spacingAndGlyphs">±180°</text>
</g>
</g>
</svg></div>
</body></html>
